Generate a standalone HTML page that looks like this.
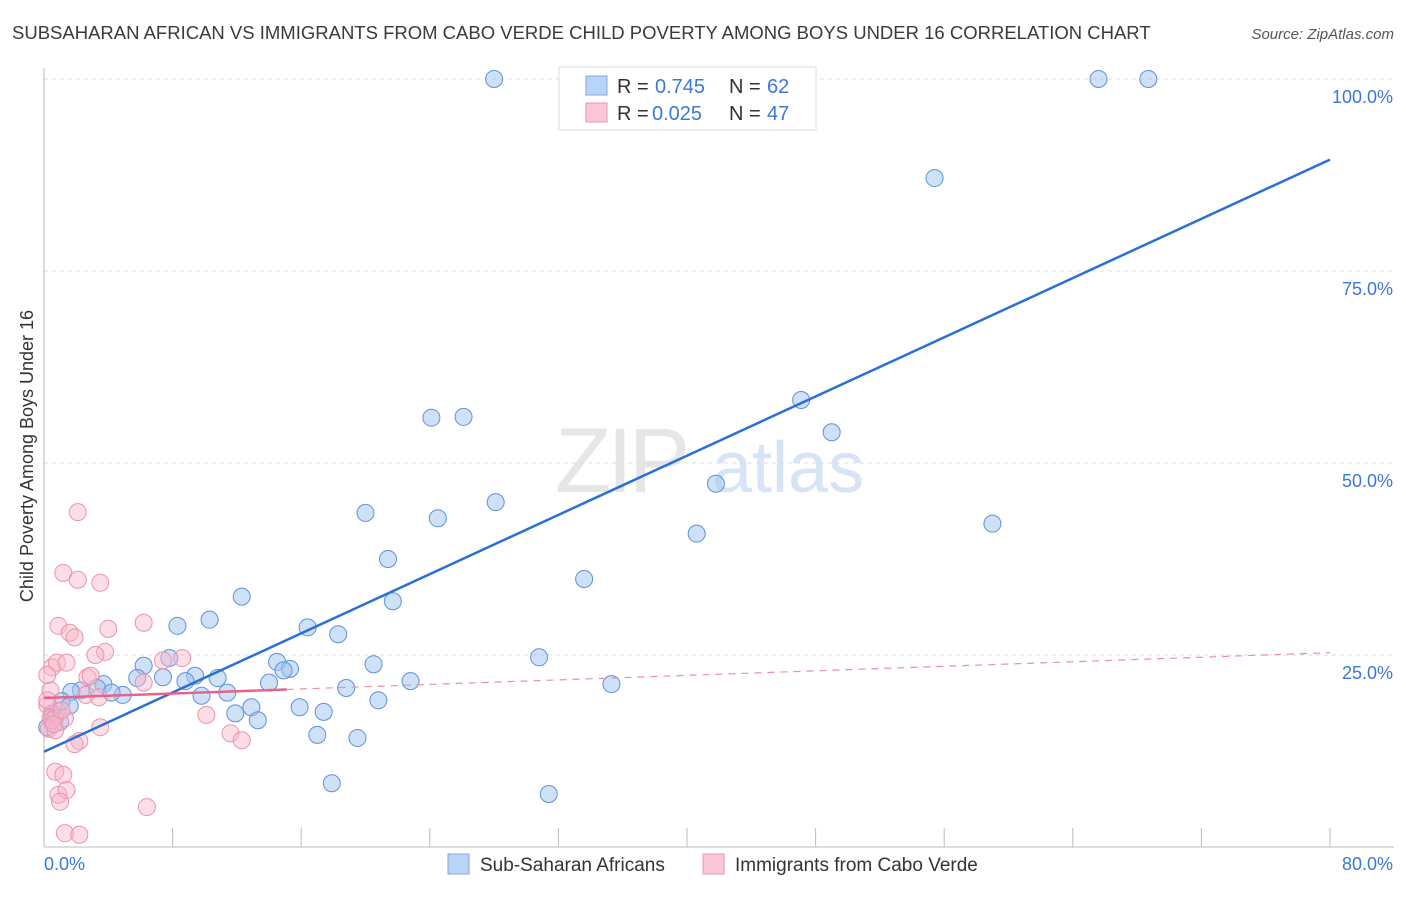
<!DOCTYPE html>
<html><head><meta charset="utf-8"><style>
body{margin:0;background:#fff;font-family:"Liberation Sans",sans-serif;}
svg text{font-family:"Liberation Sans",sans-serif;}
</style></head><body>
<svg id="chart" width="1406" height="892" xmlns="http://www.w3.org/2000/svg">
<text x="12" y="39" font-size="18.5" fill="#3a3a3a">SUBSAHARAN AFRICAN VS IMMIGRANTS FROM CABO VERDE CHILD POVERTY AMONG BOYS UNDER 16 CORRELATION CHART</text>
<text x="1394" y="39" font-size="15" fill="#555" text-anchor="end" font-style="italic">Source: ZipAtlas.com</text>
<text x="555" y="492" font-size="92" fill="#e6e6e6" font-family="Liberation Serif" letter-spacing="-4">ZIP</text>
<text x="712" y="492" font-size="72" fill="#d6e4f5">atlas</text>
<text transform="translate(33,456) rotate(-90)" font-size="18" fill="#333" text-anchor="middle">Child Poverty Among Boys Under 16</text>
<g id="grid"></g><g id="axes"></g><g id="pts"></g><g id="lines"></g>
<g>
<rect x="559" y="67" width="257" height="63" fill="#fff" stroke="#ddd"/>
<rect x="586" y="76" width="21" height="19" fill="#b9d4f6" stroke="#7ea8e0"/>
<rect x="586" y="103" width="21" height="19" fill="#fbc7d6" stroke="#eb95ad"/>
<text x="617" y="93" font-size="20" fill="#333">R =</text>
<text x="655" y="93" font-size="20" fill="#3b78d8">0.745</text>
<text x="729" y="93" font-size="20" fill="#333">N =</text>
<text x="767" y="93" font-size="20" fill="#3b78d8">62</text>
<text x="617" y="120" font-size="20" fill="#333">R =</text>
<text x="652" y="120" font-size="20" fill="#3b78d8">0.025</text>
<text x="729" y="120" font-size="20" fill="#333">N =</text>
<text x="767" y="120" font-size="20" fill="#3b78d8">47</text>
</g>
<g>
<rect x="448" y="854" width="21" height="20" fill="#b9d4f6" stroke="#7ea8e0"/>
<text x="480" y="871" font-size="19" fill="#333">Sub-Saharan Africans</text>
<rect x="703" y="854" width="21" height="20" fill="#fbc7d6" stroke="#eb95ad"/>
<text x="735" y="871" font-size="19" fill="#333">Immigrants from Cabo Verde</text>
</g>
</svg>
<script>
const blueX=[28.0,65.6,68.7,55.4,47.1,24.1,26.1,49.0,41.8,28.1,20.0,24.5,59.0,40.6,21.4,33.6,12.3,21.7,10.3,8.3,16.4,18.3,30.8,7.8,6.2,14.5,15.3,20.5,14.9,9.4,10.8,7.4,5.8,22.8,35.3,14.0,8.8,3.7,4.9,3.3,2.3,18.8,1.7,4.2,9.8,11.4,20.8,1.1,1.6,12.9,15.9,17.4,11.9,13.3,0.5,0.7,1.0,0.2,17.0,19.5,17.9,31.4];
const blueY=[100,100,100,87.1,58.2,55.9,56.0,54.0,47.3,44.9,43.5,42.8,42.1,40.8,37.5,34.9,32.6,32.0,29.6,28.8,28.6,27.7,24.7,24.6,23.6,24.1,23.2,23.8,23.0,22.3,22.0,22.1,22.0,21.6,21.2,21.4,21.6,21.2,19.8,20.7,20.4,20.7,20.2,20.1,19.7,20.1,19.1,19.0,18.4,18.2,18.2,17.6,17.4,16.5,17.4,16.8,16.3,15.6,14.6,14.2,8.3,6.9];
const pinkX=[2.1,1.2,2.1,3.5,0.9,1.6,1.9,6.2,4.0,3.8,3.2,0.5,0.8,1.4,7.4,8.6,2.7,2.9,6.2,0.4,2.6,3.4,0.2,0.8,1.3,0.4,0.3,0.7,3.5,10.1,11.6,12.3,2.2,1.9,0.7,1.2,0.9,1.4,1.0,6.4,1.3,2.2,0.5,0.2,0.6,1.1,0.2];
const pinkY=[43.6,35.7,34.8,34.4,28.8,27.9,27.3,29.2,28.4,25.4,25.0,23.4,24.0,24.0,24.3,24.6,22.1,22.3,21.4,20.4,19.8,19.5,18.5,17.7,16.8,16.8,15.4,15.2,15.6,17.2,14.8,13.9,13.8,13.4,9.8,9.4,6.8,7.4,5.9,5.2,1.8,1.6,16.5,19.1,16.0,17.8,22.4];
const blueTrend=[12.4,89.5];
const pinkTrend=[19.4,25.3];
const xTicks=[0,8,16,24,32,40,48,56,64,72,80];
const yTicks=[25,50,75,100];
const NS="http://www.w3.org/2000/svg";
const X0=44,X1=1330,Y0=847,Y100=79;
const sx=v=>X0+(X1-X0)*v/80, sy=v=>Y0-(Y0-Y100)*v/100;
function mk(tag,attrs,parent){const e=document.createElementNS(NS,tag);for(const k in attrs)e.setAttribute(k,attrs[k]);parent.appendChild(e);return e;}
const grid=document.getElementById('grid'),axes=document.getElementById('axes'),pts=document.getElementById('pts'),lines=document.getElementById('lines');
yTicks.forEach(t=>{
 const l=mk('line',{x1:X0,x2:1394,y1:sy(t),y2:sy(t),stroke:'#ddd','stroke-dasharray':'4,4'},grid);
 
 
 const tx=mk('text',{x:1393,y:sy(t)+24,'font-size':18,fill:'#3b78d8','text-anchor':'end'},grid);
 tx.textContent=t.toFixed(1)+'%';
 
 
});
const ya=mk('line',{x1:X0,x2:X0,y1:68,y2:Y0,stroke:'#bbb'},axes);


const xa=mk('line',{x1:X0,x2:1394,y1:Y0,y2:Y0,stroke:'#bbb'},axes);


xTicks.forEach(t=>{
 const l=mk('line',{x1:sx(t),x2:sx(t),y1:828,y2:Y0,stroke:'#bbb'},axes);
 
 
});
[[0,'start',44],[80,'end',1393]].forEach(([v,a,x])=>{
 const tx=mk('text',{x:x,y:870,'font-size':18,fill:'#3b78d8','text-anchor':a},axes);
 tx.textContent=v.toFixed(1)+'%';
 
 
});
blueX.forEach((v,i)=>{
 const c=mk('circle',{cx:sx(v),cy:sy(blueY[i]),r:8.5,fill:'rgba(160,196,240,0.5)',stroke:'#5d92da','stroke-width':1},pts);
 
 
});
pinkX.forEach((v,i)=>{
 const c=mk('circle',{cx:sx(v),cy:sy(pinkY[i]),r:8.5,fill:'rgba(248,182,202,0.45)',stroke:'#ec92ac','stroke-width':1},pts);
 
 
});
const bl=mk('line',{x1:sx(0),y1:sy(blueTrend[0]),x2:sx(80),y2:sy(blueTrend[1]),stroke:'#2a6fd6','stroke-width':2.5},lines);


const pAt=x=>pinkTrend[0]+(pinkTrend[1]-pinkTrend[0])*x/80;
const pd=mk('line',{x1:sx(15.1),y1:sy(pAt(15.1)),x2:sx(80),y2:sy(pinkTrend[1]),stroke:'#e890a8','stroke-width':1.2,'stroke-dasharray':'7,6'},lines);


const ps=mk('line',{x1:sx(0),y1:sy(pinkTrend[0]),x2:sx(15.1),y2:sy(pAt(15.1)),stroke:'#e8638a','stroke-width':2.5},lines);


</script>
</body></html>
